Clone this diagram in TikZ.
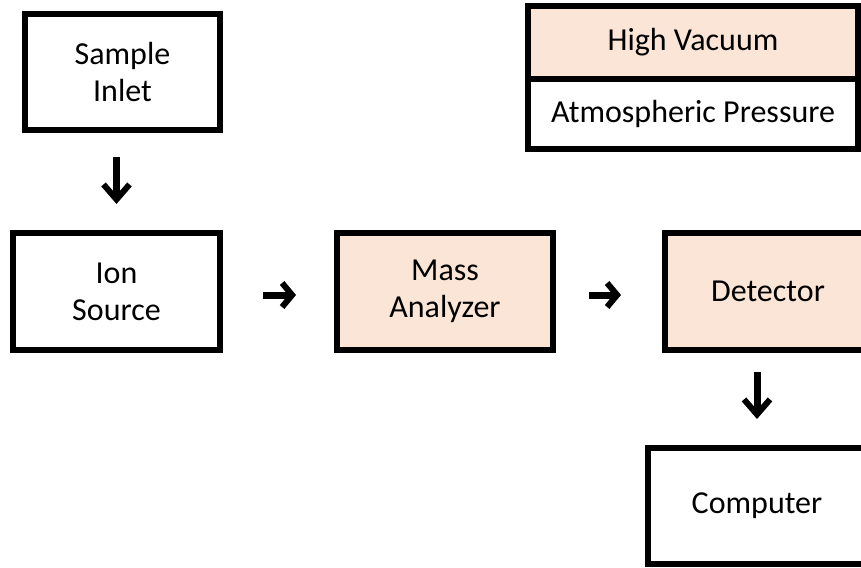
\documentclass[tikz,border=0pt]{standalone}
\usepackage{fontspec}
\setmainfont{Carlito}
\usepackage{tikz}
\usetikzlibrary{arrows.meta,positioning,calc}
\definecolor{vacuum}{HTML}{FBE5D6}
\tikzset{
    >={Straight Barb[length=15pt,width=26pt,line width=6pt]},
    unitbox/.style={rectangle,draw,line width=6pt,inner sep=0pt,align=center,
        font=\fontsize{32}{37}\selectfont},
    pumped/.style={unitbox,fill=vacuum},
    flow/.style={->,line width=7pt},
    sideflow/.style={flow,-{Straight Barb[length=10pt,width=24pt,line width=6pt]}}
}
\begin{document}
\begin{tikzpicture}[x=1pt,y=-1pt]
    \useasboundingbox (0,0) rectangle (861,567);
    \clip (0,0) rectangle (861,567);
    % Instrument units
    \node[unitbox,minimum width=195pt,minimum height=116pt] (inlet) at (122.5,72) {Sample\\Inlet};
    \node[unitbox,minimum width=207pt,minimum height=117pt] (ion) at (116.5,291.5) {Ion\\Source};
    \node[pumped,minimum width=216pt,minimum height=117pt] (mass) at (445,291.5) {Mass\\Analyzer};
    \node[pumped,minimum width=206pt,minimum height=117pt] (det) at (768,291.5) {Detector};
    \node[unitbox,minimum width=218pt,minimum height=116pt] (comp) at (757,506) {Computer};

    % Legend
    \node[pumped,minimum width=330pt,minimum height=73pt] (vac) at (693,42.5) {High Vacuum};
    \node[unitbox,minimum width=330pt,minimum height=70pt,below=-6pt of vac] (atm) {Atmospheric Pressure};

    % Arrows
    \draw[flow,shorten <=24pt,shorten >=26pt] (inlet.south -| ion.north) -- (ion.north);
    \draw[sideflow,shorten <=40pt,shorten >=38pt] (ion.east |- 0,295) -- (mass.west |- 0,295);
    \draw[sideflow,shorten <=33pt,shorten >=41pt] (mass.east |- 0,295) -- (det.west |- 0,295);
    \draw[flow,shorten <=19pt,shorten >=26pt] (det.south -| comp.north) -- (comp.north);
\end{tikzpicture}
\end{document}
